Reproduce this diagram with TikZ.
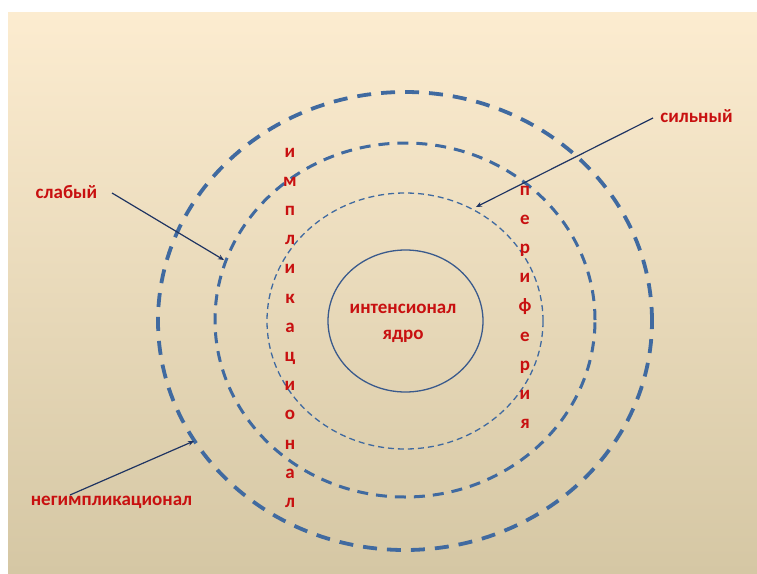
\documentclass[tikz,border=0pt]{standalone}
\usepackage{fontspec}
\setmainfont{Carlito}
\definecolor{bgtop}{RGB}{252,236,208}
\definecolor{bgbot}{RGB}{213,199,164}
\definecolor{ringblue}{RGB}{64,106,160}
\definecolor{coreblue}{RGB}{58,90,140}
\definecolor{arrownavy}{RGB}{31,52,98}
\definecolor{txtred}{RGB}{200,16,16}
\tikzset{
  lbl/.style={text=txtred, font=\bfseries\fontsize{19}{22}\selectfont, inner sep=0pt, anchor=base},
  outerring/.style={draw=ringblue, line width=3.8pt, dash pattern=on 14pt off 10pt},
  midring/.style={draw=ringblue, line width=3pt, dash pattern=on 11pt off 8pt},
  innerring/.style={draw=ringblue, line width=1.3pt, dash pattern=on 6pt off 4pt},
  corering/.style={draw=coreblue, line width=1.3pt},
  pointer/.style={draw=arrownavy, line width=1.2pt, -{Stealth[length=6pt,width=5pt]}}
}
\usetikzlibrary{arrows.meta}
\begin{document}
\begin{tikzpicture}[x=1pt,y=-1pt]
\useasboundingbox (0,0) rectangle (757,573);
\fill[white] (0,0) rectangle (757,573);
\shade[top color=bgtop, bottom color=bgbot] (8,12) rectangle (757,573);
% rings
\draw[outerring] (405,321) ellipse [x radius=247pt, y radius=229pt];
\draw[midring] (405,320) ellipse [x radius=190pt, y radius=177pt];
\draw[innerring] (405,321) ellipse [x radius=138pt, y radius=128pt];
\draw[corering] (405.5,321) ellipse [x radius=77.5pt, y radius=71pt];
% core text
\node[lbl] (core1) at (403,313) {интенсионал};
\node[lbl] (core2) at (403,339) {ядро};
% vertical words
\foreach \l [count=\i] in {и,м,п,л,и,к,а,ц,и,о,н,а,л}
  \node[lbl] (imp\i) at (290,157+29.2*\i-29.2) {\l};
\foreach \l [count=\i] in {п,е,р,и,ф,е,р,и,я}
  \node[lbl] (per\i) at (525,195+29.2*\i-29.2) {\l};
% labels
\node[lbl] (slab) at (66.5,198) {слабый};
\node[lbl] (sil) at (696.5,122) {сильный};
\node[lbl] (neg) at (111.5,505) {негимпликационал};
% arrow ends
\coordinate (slabS) at (112,193);
\coordinate (slabE) at (224,260);
\coordinate (silS) at (653,118);
\coordinate (silE) at (476,207);
\coordinate (negS) at (70,495);
\coordinate (negE) at (194,441);
\draw[pointer] (slabS) -- (slabE);
\draw[pointer] (silS) -- (silE);
\draw[pointer] (negS) -- (negE);
\end{tikzpicture}
\end{document}
